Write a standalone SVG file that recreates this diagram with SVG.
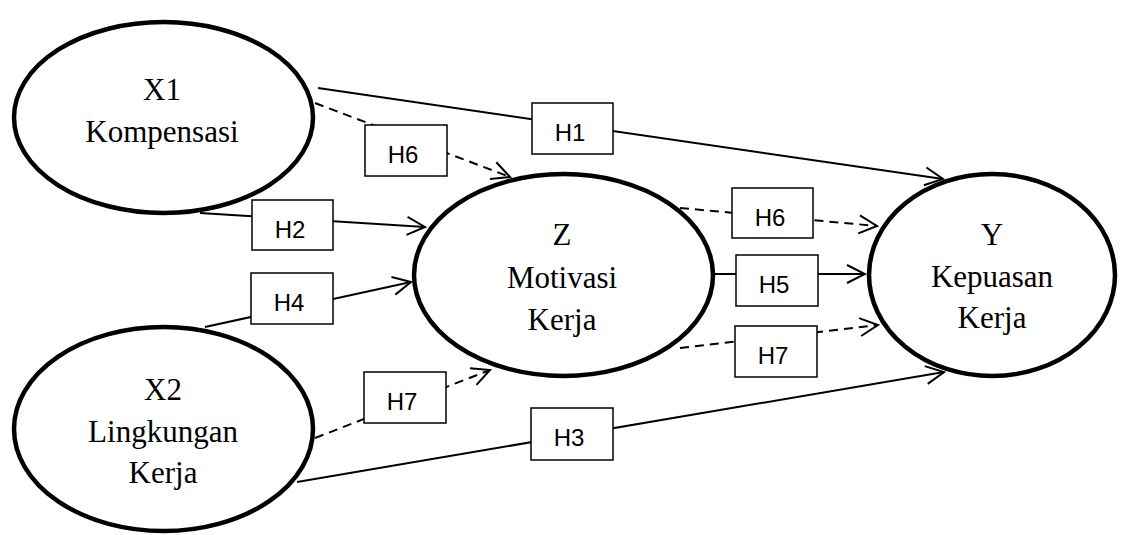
<svg xmlns="http://www.w3.org/2000/svg" width="1125" height="535" viewBox="0 0 1125 535">
<style>
.node ellipse{fill:#fff;stroke:#000;stroke-width:4.5}
.node text{font-family:"Liberation Serif","Times New Roman",serif;font-size:31px;fill:#000;text-anchor:middle}
.conn line{stroke:#000;stroke-width:2;fill:none;marker-end:url(#arr)}
.conn line.dash{stroke-dasharray:9 6}
.lbl rect{fill:#fff;stroke:#000;stroke-width:1.5}
.lbl text{font-family:"Liberation Sans",Arial,sans-serif;font-size:24px;fill:#000;text-anchor:middle}
</style>
<defs>
<marker id="arr" markerUnits="userSpaceOnUse" viewBox="-20 -11 22 22" refX="0" refY="0" markerWidth="22" markerHeight="22" orient="auto">
<path d="M-18,-9 L0,0 L-18,9" fill="none" stroke="#000" stroke-width="2" stroke-dasharray="none"/>
</marker>
</defs>
<rect width="1125" height="535" fill="#fff"/>
<g id="connectors" class="conn">
<line x1="318" y1="88" x2="943" y2="179"/>
<line class="dash" x1="315" y1="103" x2="510" y2="177"/>
<line x1="200" y1="213" x2="425" y2="227"/>
<line x1="205" y1="327" x2="411" y2="282"/>
<line class="dash" x1="315" y1="438" x2="490" y2="370"/>
<line x1="297" y1="482" x2="944" y2="372"/>
<line class="dash" x1="680" y1="208" x2="877" y2="226"/>
<line x1="713" y1="274" x2="865" y2="274"/>
<line class="dash" x1="680" y1="348" x2="878" y2="325"/>
</g>
<g id="X1" class="node">
<ellipse cx="163.5" cy="117.5" rx="149.5" ry="95.5"/>
<text x="162" y="100">X1</text>
<text x="162" y="142">Kompensasi</text>
</g>
<g id="X2" class="node">
<ellipse cx="163.5" cy="429" rx="149.5" ry="102"/>
<text x="163" y="400">X2</text>
<text x="163" y="442">Lingkungan</text>
<text x="163" y="483">Kerja</text>
</g>
<g id="Z" class="node">
<ellipse cx="563.5" cy="275" rx="149.5" ry="101"/>
<text x="562" y="245">Z</text>
<text x="562" y="288">Motivasi</text>
<text x="562" y="330">Kerja</text>
</g>
<g id="Y" class="node">
<ellipse cx="992" cy="275" rx="123" ry="101"/>
<text x="992" y="245">Y</text>
<text x="992" y="287">Kepuasan</text>
<text x="992" y="328">Kerja</text>
</g>
<g id="labels" class="lbl">
<g id="lbl-H1"><rect x="532" y="103" width="81" height="51"/><text x="570" y="141">H1</text></g>
<g id="lbl-H6a"><rect x="365" y="125" width="82" height="51"/><text x="403" y="163">H6</text></g>
<g id="lbl-H2"><rect x="252" y="200" width="81" height="50"/><text x="290" y="238">H2</text></g>
<g id="lbl-H4"><rect x="251" y="273" width="82" height="51"/><text x="289" y="311">H4</text></g>
<g id="lbl-H7a"><rect x="364" y="372" width="82" height="51"/><text x="402" y="410">H7</text></g>
<g id="lbl-H3"><rect x="531" y="408" width="82" height="52"/><text x="569" y="446">H3</text></g>
<g id="lbl-H6b"><rect x="732" y="188" width="81" height="50"/><text x="770" y="226">H6</text></g>
<g id="lbl-H5"><rect x="736" y="255" width="82" height="51"/><text x="774" y="293">H5</text></g>
<g id="lbl-H7b"><rect x="735" y="326" width="82" height="51"/><text x="773" y="364">H7</text></g>
</g>
</svg>
